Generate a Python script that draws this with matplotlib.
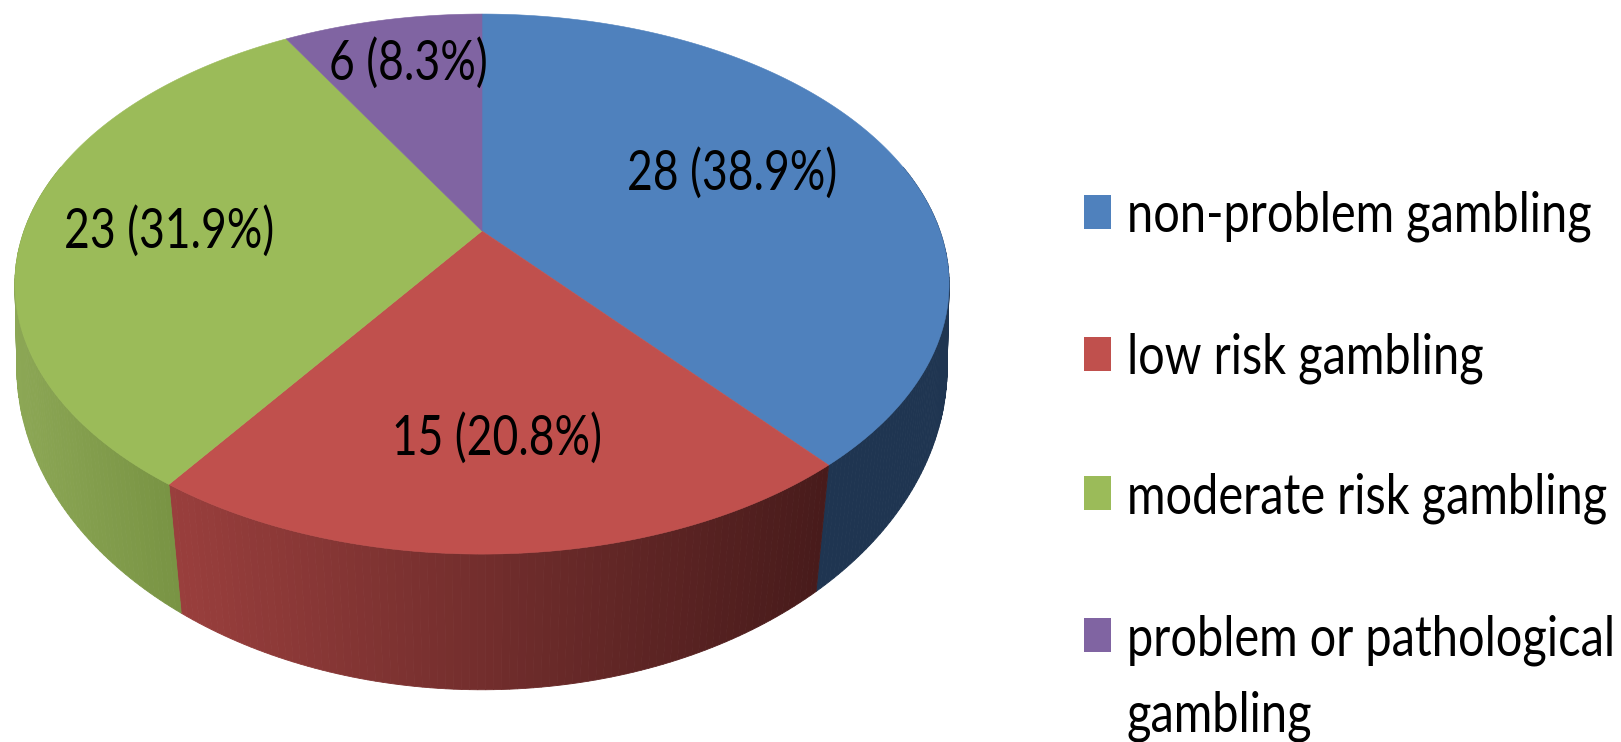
import numpy as np
import matplotlib
matplotlib.use('Agg')
import matplotlib.pyplot as plt
from matplotlib.font_manager import FontProperties, findfont
from fontTools.ttLib import TTFont

categories = ['non-problem gambling', 'low risk gambling', 'moderate risk gambling', 'problem or pathological\ngambling']
counts = [28, 15, 23, 6]
percents = [38.9, 20.8, 31.9, 8.3]

top_colors = ['#4F81BD', '#C0504D', '#9BBB59', '#8064A2']
# side wall colours, left end and right end of each slice (on screen)
wall_left = ['#1F3551', '#9A3F3D', '#8CA755', '#8064A2']
wall_right = ['#1F3551', '#481B1B', '#799444', '#8064A2']


def narrow_font(name, squeeze, out_file):
    # no condensed face is installed, so squeeze the glyphs of a normal one
    font = TTFont(findfont(name))
    for table in ['fpgm', 'prep', 'cvt ', 'hdmx', 'VDMX', 'kern']:
        if table in font:
            del font[table]
    glyf = font['glyf']
    for g in font.getGlyphOrder():
        glyph = glyf[g]
        if glyph.isComposite():
            for comp in glyph.components:
                comp.x = int(comp.x * squeeze)
        elif glyph.numberOfContours > 0:
            glyph.coordinates.scale((squeeze, 1))
            glyph.coordinates.toInt()
        adv, lsb = font['hmtx'][g]
        font['hmtx'][g] = (int(adv * squeeze), int(lsb * squeeze))
    font.save(out_file)
    return out_file


label_font = FontProperties(fname=narrow_font('Lato', 0.80, 'lato_labels.ttf'), size=40)
legend_font = FontProperties(fname=narrow_font('Lato', 0.845, 'lato_legend.ttf'), size=40)


def top_rim(theta):
    w = 1 + 0.1965 * np.sin(theta)
    return 482 + 458 * np.cos(theta) / w, 231 - 259.6 * np.sin(theta) / w


def low_rim(theta):
    w = 1 + 0.15 * np.sin(theta)
    return 482 + 460 * np.cos(theta) / w, 318 - 316 * np.sin(theta) / w


def mix(c1, c2, t):
    a = np.array(matplotlib.colors.to_rgb(c1))
    b = np.array(matplotlib.colors.to_rgb(c2))
    return tuple(a + (b - a) * t)


fig = plt.figure(figsize=(16.21, 7.42), dpi=100)
ax = fig.add_axes([0, 0, 1, 1])
ax.set_xlim(0, 1621)
ax.set_ylim(742, 0)
ax.axis('off')

fractions = np.array(counts) / sum(counts)
edges = np.pi / 2 - 2 * np.pi * np.concatenate([[0], np.cumsum(fractions)])

# side wall, only the front part can be seen
for i in range(len(counts)):
    start, end = edges[i], edges[i + 1]
    start_v = min(start, np.radians(15))
    end_v = max(end, np.radians(-195))
    if start_v <= end_v:
        continue
    t = np.linspace(start_v, end_v, 90)
    xa = top_rim(t)[0]
    for j in range(len(t) - 1):
        xt, yt = top_rim(t[j:j + 2])
        xl, yl = low_rim(t[j:j + 2])
        pos = (xa[j] - xa.min()) / (xa.max() - xa.min())
        c = mix(wall_left[i], wall_right[i], pos)
        ax.fill(np.r_[xt, xl[::-1]], np.r_[yt, yl[::-1]], color=c, lw=0.6)

# top face
for i in range(len(counts)):
    t = np.linspace(edges[i], edges[i + 1], 200)
    x, y = top_rim(t)
    ax.fill(np.r_[482, x], np.r_[231, y], color=top_colors[i], lw=0.4)

# slice labels
label_x = [732, 497, 169, 408]
label_y = [190, 455, 248, 80]
for i in range(len(counts)):
    ax.text(label_x[i], label_y[i], '%d (%.1f%%)' % (counts[i], percents[i]),
            ha='center', va='baseline', fontproperties=label_font, color='black')

# legend
swatch_y = [195, 337, 476, 618]
text_y = [231, 373, 514, 656]
for i in range(len(categories)):
    ax.fill([1084, 1111, 1111, 1084],
            [swatch_y[i], swatch_y[i], swatch_y[i] + 34, swatch_y[i] + 34],
            color=top_colors[i], lw=0)
    lines = categories[i].split('\n')
    ax.text(1127, text_y[i], lines[0], ha='left', va='baseline', fontproperties=legend_font)
    if len(lines) > 1:
        ax.text(1127, text_y[i] + 75, lines[1], ha='left', va='baseline', fontproperties=legend_font)

fig.savefig('out.png', dpi=100)
